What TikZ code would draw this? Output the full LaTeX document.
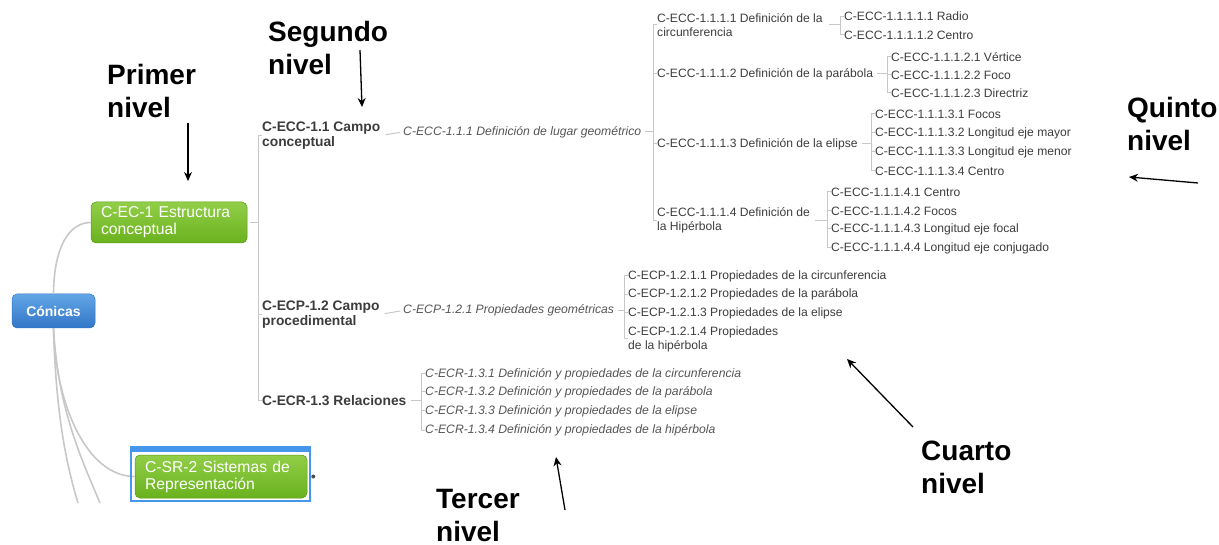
\documentclass[tikz,border=0pt]{standalone}
\usepackage{fontspec}
\setmainfont{Liberation Sans}
\usetikzlibrary{arrows.meta}

\definecolor{greentop}{RGB}{146,206,72}
\definecolor{greenbot}{RGB}{106,178,30}
\definecolor{bluetop}{RGB}{98,166,230}
\definecolor{bluebot}{RGB}{50,118,200}
\definecolor{selblue}{RGB}{70,150,235}
\definecolor{linkgray}{RGB}{200,200,200}
\definecolor{textgray}{RGB}{60,60,60}
\definecolor{italgray}{RGB}{85,85,85}

\tikzset{
  topic/.style={rounded corners=5pt, top color=greentop, bottom color=greenbot,
    draw=greenbot!85!black, line width=.5pt, text=white, align=left,
    font=\fontsize{15.7}{17}\selectfont, inner xsep=10pt, inner ysep=0pt},
  central/.style={rounded corners=5pt, top color=bluetop, bottom color=bluebot,
    draw=bluebot, line width=.5pt, text=white, font=\fontsize{14}{16}\selectfont\bfseries,
    minimum width=83pt, minimum height=34pt, inner sep=0pt},
  lvtwo/.style={anchor=west, inner sep=0pt, align=left, text=textgray,
    font=\fontsize{13.8}{15}\selectfont\bfseries},
  lvthree/.style={anchor=west, inner sep=0pt, text=italgray,
    font=\fontsize{12.2}{14}\selectfont\itshape},
  leaf/.style={anchor=west, inner sep=0pt, align=left, text=textgray,
    font=\fontsize{12.1}{14}\selectfont},
  note/.style={anchor=north west, inner sep=0pt, align=left,
    font=\fontsize{28}{33}\selectfont\bfseries},
  pointer/.style={-{Stealth[length=9pt,width=8pt]}, line width=1.3pt},
  link/.style={draw=linkgray, line width=1pt},
  trunk/.style={draw=linkgray, line width=1.6pt}
}

\begin{document}
\begin{tikzpicture}[x=1pt, y=-1pt]
\useasboundingbox (0,0) rectangle (1219,545);

% main topics
\node[central] (con) at (53.5,311) {Cónicas};
\node[topic, text width=136pt, minimum height=41pt] (ec1) at (169,222.5) {C-EC-1 Estructura\\conceptual};
\node[topic, text width=152pt, minimum height=43pt] (sr2) at (221,476.5) {C-SR-2 Sistemas de\\Representación};

\coordinate (dn1) at (78,503);
\coordinate (dn2) at (100,503);
\draw[trunk] (con.north) .. controls (54,245) and (70,222.5) .. (ec1.west);
\draw[trunk] (con.south) .. controls (55,400) and (85,476.5) .. (sr2.west);
\draw[trunk] (con.south) .. controls (56,420) and (68,470) .. (dn1);
\draw[trunk] (con.south) .. controls (58,410) and (82,460) .. (dn2);

% selection frame
\draw[selblue, line width=1.6pt] ([shift={(-4,-8)}]sr2.north west) rectangle ([shift={(3,3)}]sr2.south east);
\fill[selblue] ([shift={(-4,-8)}]sr2.north west) rectangle ([shift={(3,-3)}]sr2.north east);
\fill[gray!60!black] ([xshift=6pt]sr2.east) circle (2pt);

% second level
\node[lvtwo] (e11) at (262,135.5) {C-ECC-1.1 Campo\\conceptual};
\node[lvtwo] (e12) at (262,314.5) {C-ECP-1.2 Campo\\procedimental};
\node[lvtwo] (e13) at (262,401) {C-ECR-1.3 Relaciones};

\draw[link] (e11.west) -- ++(-4,0) |- (e13.west);
\draw[link] (e12.west) -- ++(-4,0);
\coordinate (b2) at ([xshift=-4pt]e11.west);
\draw[link, shorten <=3pt] (ec1.east) -- (ec1.east -| b2);

% third level
\node[lvthree] (e111) at (403,132) {C-ECC-1.1.1 Definición de lugar geométrico};
\node[lvthree] (e121) at (403,310.5) {C-ECP-1.2.1 Propiedades geométricas};
\node[lvthree] (e131) at (425,374) {C-ECR-1.3.1 Definición y propiedades de la circunferencia};
\node[lvthree] (e132) at (425,392) {C-ECR-1.3.2 Definición y propiedades de la parábola};
\node[lvthree] (e133) at (425,411) {C-ECR-1.3.3 Definición y propiedades de la elipse};
\node[lvthree] (e134) at (425,430) {C-ECR-1.3.4 Definición y propiedades de la hipérbola};

\draw[link, shorten <=5pt, shorten >=3pt] (e11.east) -- (e111.west);
\draw[link, shorten <=5pt, shorten >=3pt] (e12.east) -- (e121.west);
\draw[link] (e131.west) -- ++(-4,0) |- (e134.west);
\foreach \c in {e132,e133} {\draw[link] (\c.west) -- ++(-4,0);}
\coordinate (b13) at ([xshift=-4pt]e131.west);
\draw[link, shorten <=4pt] (e13.east) -- (e13.east -| b13);

% fourth level
\node[leaf] (e1111) at (657,25) {C-ECC-1.1.1.1 Definición de la\\circunferencia};
\node[leaf] (e1112) at (657,74) {C-ECC-1.1.1.2 Definición de la parábola};
\node[leaf] (e1113) at (657,144) {C-ECC-1.1.1.3 Definición de la elipse};
\node[leaf] (e1114) at (657,220.5) {C-ECC-1.1.1.4 Definición de\\la Hipérbola};
\node[leaf] (e1211) at (628,276) {C-ECP-1.2.1.1 Propiedades de la circunferencia};
\node[leaf] (e1212) at (628,294.5) {C-ECP-1.2.1.2 Propiedades de la parábola};
\node[leaf] (e1213) at (628,313) {C-ECP-1.2.1.3 Propiedades de la elipse};
\node[leaf] (e1214) at (628,339) {C-ECP-1.2.1.4 Propiedades\\de la hipérbola};

\draw[link] (e1111.west) -- ++(-4,0) |- (e1114.west);
\foreach \c in {e1112,e1113} {\draw[link] (\c.west) -- ++(-4,0);}
\coordinate (b111) at ([xshift=-4pt]e1111.west);
\draw[link, shorten <=4pt] (e111.east) -- (e111.east -| b111);

\draw[link] (e1211.west) -- ++(-4,0) |- (e1214.west);
\foreach \c in {e1212,e1213} {\draw[link] (\c.west) -- ++(-4,0);}
\coordinate (b121) at ([xshift=-4pt]e1211.west);
\draw[link, shorten <=4pt] (e121.east) -- (e121.east -| b121);

% fifth level
\node[leaf] (r1) at (844,16.5) {C-ECC-1.1.1.1.1 Radio};
\node[leaf] (r2) at (844,35) {C-ECC-1.1.1.1.2 Centro};
\node[leaf] (p1) at (891,57) {C-ECC-1.1.1.2.1 Vértice};
\node[leaf] (p2) at (891,75) {C-ECC-1.1.1.2.2 Foco};
\node[leaf] (p3) at (891,93) {C-ECC-1.1.1.2.3 Directriz};
\node[leaf] (s1) at (875,114) {C-ECC-1.1.1.3.1 Focos};
\node[leaf] (s2) at (875,133) {C-ECC-1.1.1.3.2 Longitud eje mayor};
\node[leaf] (s3) at (875,152) {C-ECC-1.1.1.3.3 Longitud eje menor};
\node[leaf] (s4) at (875,171) {C-ECC-1.1.1.3.4 Centro};
\node[leaf] (h1) at (831,192) {C-ECC-1.1.1.4.1 Centro};
\node[leaf] (h2) at (831,211) {C-ECC-1.1.1.4.2 Focos};
\node[leaf] (h3) at (831,229) {C-ECC-1.1.1.4.3 Longitud eje focal};
\node[leaf] (h4) at (831,248) {C-ECC-1.1.1.4.4 Longitud eje conjugado};

\draw[link] (r1.west) -- ++(-4,0) |- (r2.west);
\coordinate (b1111) at ([xshift=-4pt]r1.west);
\draw[link, shorten <=6pt] (e1111.east) -- (e1111.east -| b1111);

\draw[link] (p1.west) -- ++(-4,0) |- (p3.west);
\draw[link] (p2.west) -- ++(-4,0);
\coordinate (b1112) at ([xshift=-4pt]p1.west);
\draw[link, shorten <=4pt] (e1112.east) -- (e1112.east -| b1112);

\draw[link] (s1.west) -- ++(-4,0) |- (s4.west);
\foreach \c in {s2,s3} {\draw[link] (\c.west) -- ++(-4,0);}
\coordinate (b1113) at ([xshift=-4pt]s1.west);
\draw[link, shorten <=4pt] (e1113.east) -- (e1113.east -| b1113);

\draw[link] (h1.west) -- ++(-4,0) |- (h4.west);
\foreach \c in {h2,h3} {\draw[link] (\c.west) -- ++(-4,0);}
\coordinate (b1114) at ([xshift=-4pt]h1.west);
\draw[link, shorten <=5pt] (e1114.east) -- (e1114.east -| b1114);

% level notes
\node[note] (primer) at (107,64) {Primer\\nivel};
\node[note] (segundo) at (268,21) {Segundo\\nivel};
\node[note] (quinto) at (1127,97) {Quinto\\nivel};
\node[note] (cuarto) at (921,441) {Cuarto\\nivel};
\node[note] (tercer) at (436,489) {Tercer\\nivel};

\coordinate (pa) at (188,123);  \coordinate (pb) at (188,181);
\coordinate (sa) at (360,50);   \coordinate (sb) at (362,107);
\coordinate (qa) at (1198,183); \coordinate (qb) at (1129,177);
\coordinate (ca) at (913,427);  \coordinate (cb) at (847,359);
\coordinate (ta) at (565,510);  \coordinate (tb) at (556,457);
\draw[pointer] (pa) -- (pb);
\draw[pointer] (sa) -- (sb);
\draw[pointer] (qa) -- (qb);
\draw[pointer] (ca) -- (cb);
\draw[pointer] (ta) -- (tb);

\end{tikzpicture}
\end{document}
